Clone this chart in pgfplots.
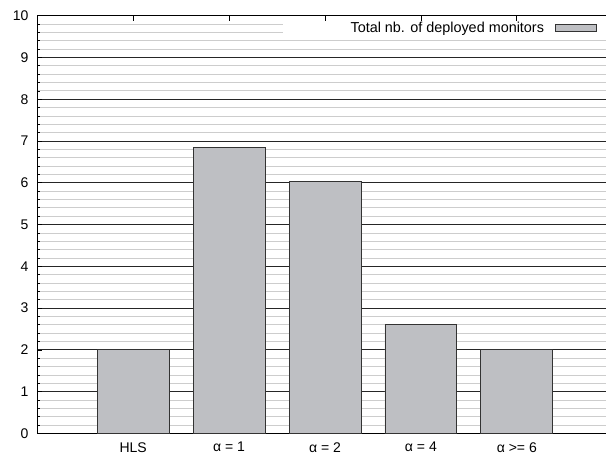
\documentclass[border=0pt]{standalone}
\usepackage{fontspec}
\setmainfont{Liberation Sans}
\usepackage{pgfplots}
\pgfplotsset{compat=1.18}
\definecolor{barfill}{RGB}{190,191,195}
\definecolor{mgrid}{RGB}{205,205,205}
\begin{document}
\fontsize{14}{16}\selectfont
\begin{tikzpicture}
\begin{axis}[
  scale only axis, width=568.7pt, height=417.7pt,
  xmin=-1, xmax=4.93, ymin=0, ymax=10,
  axis x line*=box, axis y line*=left,
  xtick pos=right, xticklabel pos=left,
  xtick={0,1,2,3,4},
  xticklabels={HLS, α = 1, α = 2, α = 4, α >= 6},
  ytick={0,1,...,10}, minor y tick num=4,
  ymajorgrids, yminorgrids,
  major grid style={black!85, line width=0.8pt},
  minor grid style={mgrid, line width=0.8pt},
  tick align=inside, major tick length=5pt, minor tick length=3pt,
  tick style={black, line width=0.7pt},
  axis line style={black, line width=1.1pt},
  /pgf/number format/assume math mode=true,
  ticklabel style={font=\fontsize{14}{16}\selectfont},
  xticklabel style={yshift=-4pt},
  yticklabel style={xshift=-4pt},
  legend plot pos=right,
  legend cell align=right,
  legend image code/.code={\draw[#1] (0pt,-3.5pt) rectangle (41pt,3.5pt);},
  legend style={at={(rel axis cs:1,1)}, anchor=north east, draw=none, fill=white,
    inner xsep=9pt, inner ysep=4pt, /tikz/column sep=9pt,
    font=\fontsize{14.4}{16}\selectfont},
]
\addplot[ybar, bar width=0.75, fill=barfill, draw=black!80, line width=0.8pt]
  coordinates {(0,2) (1,6.85) (2,6.04) (3,2.61) (4,2)};
\addlegendentry{\hspace*{57pt}Total nb. of deployed monitors}
\end{axis}
% overlay axis: only the top x ticks, drawn above the legend
\begin{axis}[
  scale only axis, width=568.7pt, height=417.7pt,
  xmin=-1, xmax=4.93, ymin=0, ymax=10,
  axis x line*=top, axis y line=none,
  xtick={0,1,2,3,4}, xticklabels={},
  tick align=inside, major tick length=5pt,
  tick style={black, line width=0.7pt},
  axis line style={black, line width=1.1pt},
]
\end{axis}
\pgfresetboundingbox
\path (-37.3pt,-22.6pt) rectangle (568.7pt,433.4pt);
\end{tikzpicture}
\end{document}
